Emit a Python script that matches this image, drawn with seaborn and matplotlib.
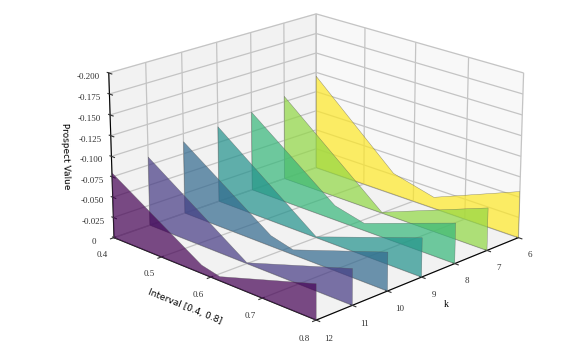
import numpy as np
import matplotlib
matplotlib.use('Agg')
import matplotlib.pyplot as plt
import seaborn as sns
from matplotlib.collections import PolyCollection

k_values = [6, 7, 8, 9, 10, 11, 12]

# pontos: intervalo e valor de cada k
x_k6 = [0.4, 0.56, 0.64, 0.8]
y_k6 = [-0.120, -0.027, -0.014, -0.057]
x_k7 = [0.4, 0.6, 0.8]
y_k7 = [-0.107, -0.001, -0.052]
x_k8 = [0.4, 0.571, 0.629, 0.8]
y_k8 = [-0.100, -0.018, -0.009, -0.049]
x_k9 = [0.4, 0.6, 0.8]
y_k9 = [-0.095, -0.001, -0.047]
x_k10 = [0.4, 0.578, 0.622, 0.8]
y_k10 = [-0.090, -0.013, -0.006, -0.046]
x_k11 = [0.4, 0.6, 0.8]
y_k11 = [-0.085, -0.001, -0.043]
x_k12 = [0.4, 0.582, 0.618, 0.8]
y_k12 = [-0.080, -0.010, -0.005, -0.042]

x_series = [x_k6, x_k7, x_k8, x_k9, x_k10, x_k11, x_k12]
y_series = [y_k6, y_k7, y_k8, y_k9, y_k10, y_k11, y_k12]

x_ticks = [0.4, 0.5, 0.6, 0.7, 0.8]
z_ticks = [0, -0.025, -0.05, -0.075, -0.1, -0.125, -0.15, -0.175, -0.2]
z_labels = ['0', '-0.025', '-0.050', '-0.075', '-0.100', '-0.125', '-0.150', '-0.175', '-0.200']

cores = sns.color_palette('viridis', as_cmap=True)(np.linspace(1, 0, 7))

fig = plt.figure(figsize=(5.71, 3.44), dpi=100)
ax = fig.add_axes([0.06, -0.10, 0.967, 1.257], projection='3d')

verts = []
for xs, ys in zip(x_series, y_series):
    verts.append([(xs[0], 0)] + list(zip(xs, ys)) + [(xs[-1], 0)])

polys = PolyCollection(verts, facecolors=cores, edgecolors='#555555', linewidths=0.3, alpha=0.7)
ax.add_collection3d(polys, zs=k_values, zdir='y')

ax.set_xlim(0.4, 0.8)
ax.set_ylim(12, 6)
ax.set_zlim(0, -0.2)
ax.set_box_aspect((4, 4, 2.42))
ax.view_init(elev=20, azim=-45)

# eixo z do lado esquerdo
ax.zaxis._axinfo['juggled'] = (1, 2, 0)

ax.set_xticks(x_ticks)
ax.set_yticks(k_values)
ax.set_zticks(z_ticks)
ax.set_zticklabels(z_labels)
ax.tick_params(labelsize=6.5, pad=1, colors='#333333')
ax.tick_params(axis='z', pad=0)
for lab in ax.get_xticklabels() + ax.get_yticklabels() + ax.get_zticklabels():
    lab.set_family('Liberation Serif')

ax.set_xlabel('Interval [0.4, 0.8]', fontsize=6.5, labelpad=-2)
ax.set_ylabel('k', fontsize=7, labelpad=-3, family='Liberation Serif')
ax.set_zlabel('Prospect Value', fontsize=6.5, labelpad=-3)

ax.xaxis.set_pane_color('#f2f2f2')
ax.yaxis.set_pane_color('#f8f8f8')
ax.zaxis.set_pane_color('#f2f2f2')
for eixo in [ax.xaxis, ax.yaxis, ax.zaxis]:
    eixo._axinfo['grid']['color'] = '#c4c4c4'
    eixo._axinfo['grid']['linewidth'] = 0.9

fig.savefig('out.png', dpi=100)
